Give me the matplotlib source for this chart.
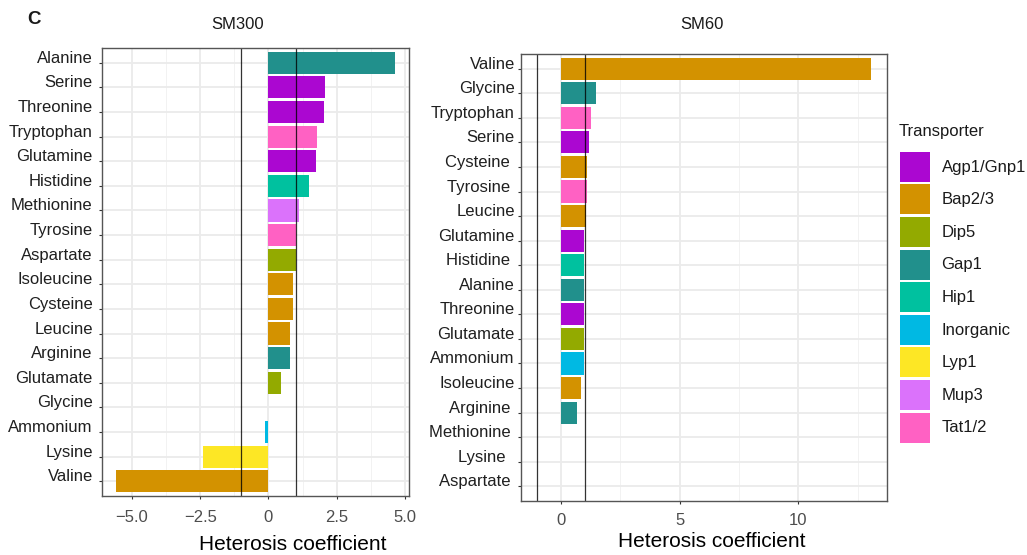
import numpy as np
import matplotlib
matplotlib.use("Agg")
import matplotlib.pyplot as plt
from matplotlib.patches import Rectangle
from matplotlib.ticker import FixedLocator, FixedFormatter

plt.rcParams["font.family"] = ["Liberation Sans", "DejaVu Sans"]

# ---- data -----------------------------------------------------------------
transporters = ["Agp1/Gnp1", "Bap2/3", "Dip5", "Gap1", "Hip1",
                "Inorganic", "Lyp1", "Mup3", "Tat1/2"]
transporter_colors = ["#AB07D1", "#D39200", "#93AA00", "#21908C", "#00C19F",
                      "#00B9E3", "#FDE725", "#DB72FB", "#FF61C3"]

sm300_labels = ["Alanine", "Serine", "Threonine", "Tryptophan", "Glutamine",
                "Histidine", "Methionine", "Tyrosine", "Aspartate",
                "Isoleucine", "Cysteine", "Leucine", "Arginine", "Glutamate",
                "Glycine", "Ammonium", "Lysine", "Valine"]
sm300_values = [4.63, 2.07, 2.04, 1.79, 1.75, 1.50, 1.13, 1.00, 0.99,
                0.91, 0.91, 0.80, 0.77, 0.44, np.nan, -0.11, -2.41, -5.58]
sm300_transporter = ["Gap1", "Agp1/Gnp1", "Agp1/Gnp1", "Tat1/2", "Agp1/Gnp1",
                     "Hip1", "Mup3", "Tat1/2", "Dip5", "Bap2/3", "Bap2/3",
                     "Bap2/3", "Gap1", "Dip5", "Gap1", "Inorganic", "Lyp1",
                     "Bap2/3"]

sm60_labels = ["Valine", "Glycine", "Tryptophan", "Serine", "Cysteine ",
               "Tyrosine ", "Leucine", "Glutamine", "Histidine ", "Alanine",
               "Threonine", "Glutamate", "Ammonium", "Isoleucine",
               "Arginine ", "Methionine ", "Lysine  ", "Aspartate "]
sm60_values = [13.05, 1.49, 1.26, 1.19, 1.11, 1.11, 1.07, 0.97, 0.96, 0.96,
               0.96, 0.96, 0.97, 0.86, 0.69, np.nan, np.nan, np.nan]
sm60_transporter = ["Bap2/3", "Gap1", "Tat1/2", "Agp1/Gnp1", "Bap2/3",
                    "Tat1/2", "Bap2/3", "Agp1/Gnp1", "Hip1", "Gap1",
                    "Agp1/Gnp1", "Dip5", "Inorganic", "Bap2/3", "Gap1",
                    "Hip1", "Lyp1", "Dip5"]

threshold_lines = [-1, 1]
sm300_ticks = [-5.0, -2.5, 0.0, 2.5, 5.0]
sm300_ticklabels = ["\u22125.0", "\u22122.5", "0", "2.5", "5.0"]
sm300_minor = [-3.75, -1.25, 1.25, 3.75]
sm60_ticks = [0, 5, 10]
sm60_ticklabels = ["0", "5", "10"]
sm60_minor = [2.5, 7.5, 12.5]

# ---- figure ----------------------------------------------------------------
W, H = 1027, 555
fig = plt.figure(figsize=(W / 100, H / 100), dpi=100)


def box(x0, y0, x1, y1):
    """Pixel box (top-left origin) -> figure fraction rect."""
    return [x0 / W, 1 - y1 / H, (x1 - x0) / W, (y1 - y0) / H]


color_of = dict(zip(transporters, transporter_colors))


def panel(rect, labels, values, trans, ticks, ticklabels, minor, ylab_pad,
          xlab_pad):
    ax = fig.add_axes(rect)
    n = len(labels)
    ypos = np.arange(n, 0, -1)
    vals = np.asarray(values, dtype=float)
    keep = ~np.isnan(vals)
    ax.barh(ypos[keep], vals[keep], height=0.9,
            color=[color_of[t] for t, k in zip(trans, keep) if k],
            linewidth=0, zorder=2)
    for v in threshold_lines:
        ax.axvline(v, color="black", lw=0.9, alpha=0.8, zorder=3)
    lo = min(np.nanmin(vals), min(threshold_lines))
    hi = max(np.nanmax(vals), max(threshold_lines))
    pad = 0.05 * (hi - lo)
    ax.set_xlim(lo - pad, hi + pad)
    ax.set_ylim(0.4, n + 0.6)

    ax.xaxis.set_major_locator(FixedLocator(ticks))
    ax.xaxis.set_major_formatter(FixedFormatter(ticklabels))
    ax.xaxis.set_minor_locator(FixedLocator(minor))
    ax.set_yticks(ypos)
    ax.set_yticklabels(labels)
    for lab in ax.get_yticklabels():
        lab.set_va("baseline")

    ax.grid(True, which="major", color="#EBEBEB", lw=1.3, zorder=0)
    ax.grid(True, which="minor", axis="x", color="#F2F2F2", lw=0.7, zorder=0)
    ax.set_axisbelow(True)
    ax.tick_params(axis="x", which="major", length=2.2, width=0.8,
                   color="#333333", labelsize=12, labelcolor="#4D4D4D",
                   pad=xlab_pad)
    ax.tick_params(axis="x", which="minor", length=0)
    ax.tick_params(axis="y", length=2.2, width=0.8, color="#333333",
                   labelsize=12, labelcolor="#1F1F1F", pad=ylab_pad)
    for s in ax.spines.values():
        s.set_color("#555555")
        s.set_linewidth(1.0)
        s.set_zorder(4)
    return ax


panel(box(102, 48, 409, 496), sm300_labels, sm300_values, sm300_transporter,
      sm300_ticks, sm300_ticklabels, sm300_minor, ylab_pad=4.5, xlab_pad=8.2)
panel(box(520.7, 54, 887.3, 501), sm60_labels, sm60_values, sm60_transporter,
      sm60_ticks, sm60_ticklabels, sm60_minor, ylab_pad=2.0, xlab_pad=6.6)


def ftext(x, y, s, **kw):
    fig.text(x / W, 1 - y / H, s, **kw)


# panel letter, titles and axis titles
ftext(34, 19.5, "C", fontsize=13.5, fontweight="bold", ha="center",
      va="center", color="#1A1A1A")
ftext(238, 24.5, "SM300", fontsize=12, ha="center", va="center",
      color="#1A1A1A")
ftext(702, 24.5, "SM60", fontsize=12, ha="center", va="center",
      color="#1A1A1A")
ftext(293, 544, "Heterosis coefficient", fontsize=15, ha="center",
      va="center", color="black")
ftext(711.5, 541.5, "Heterosis coefficient", fontsize=15, ha="center",
      va="center", color="black")

# legend
ftext(899, 131.7, "Transporter", fontsize=12, ha="left", va="center",
      color="#1A1A1A")
for i, (name, col) in enumerate(zip(transporters, transporter_colors)):
    top = 151.7 + i * 32.6
    fig.add_artist(Rectangle((900 / W, 1 - (top + 30) / H), 30 / W, 30 / H,
                             transform=fig.transFigure, facecolor=col,
                             edgecolor="none"))
    ftext(941.5, top + 15.5, name, fontsize=12, ha="left", va="center",
          color="#1A1A1A")

fig.savefig("out.png", dpi=100)
